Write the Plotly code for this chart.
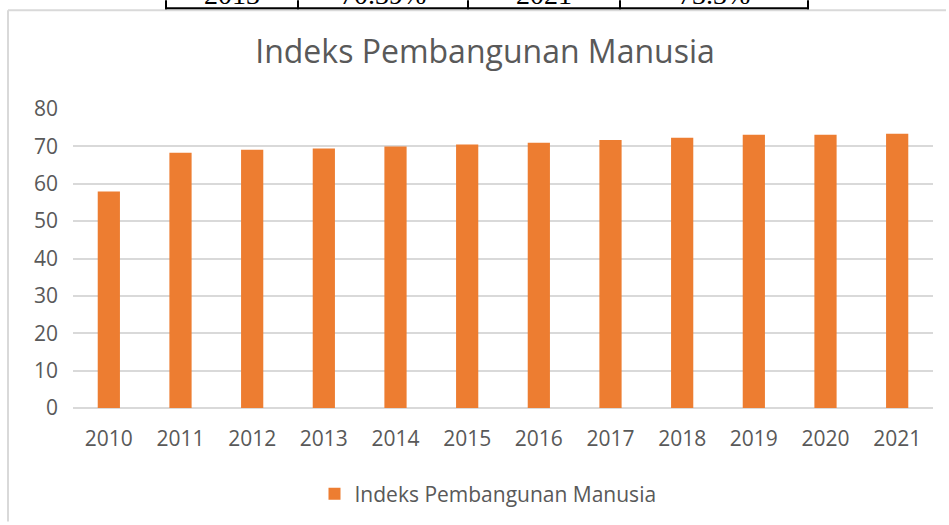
import plotly.graph_objects as go

years = ["2010", "2011", "2012", "2013", "2014", "2015", "2016", "2017", "2018", "2019", "2020", "2021"]
ipm = [57.9, 68.3, 69.1, 69.4, 70.0, 70.5, 71.0, 71.7, 72.3, 73.1, 73.1, 73.4]
series_name = "Indeks Pembangunan Manusia"
table_texts = ["2013", "70.39%", "2021", "73.3%"]

W, H = 949, 525
L, R, T, B = 73, 933, 109, 409  # plot area pixels

def px(x):
    return (x - L) / (R - L)

def py(y):
    return (B - y) / (B - T)

FONT = "Open Sans"
GREY = "#595959"

fig = go.Figure()
fig.add_trace(go.Bar(
    x=years, y=ipm, name=series_name,
    marker=dict(color="#ED7D31", line=dict(width=0)),
    showlegend=True,
))

shapes = []
# chart area frame: top and left edges, kept inside the picture
shapes.append(dict(type="line", xref="paper", yref="paper",
                   x0=px(8), x1=px(946), y0=py(10), y1=py(10),
                   line=dict(color="#D9D9D9", width=2)))
shapes.append(dict(type="line", xref="paper", yref="paper",
                   x0=px(8), x1=px(8), y0=py(10), y1=py(523),
                   line=dict(color="#D9D9D9", width=2)))
# table fragment at top
for xv in [166, 298, 468, 620, 808]:
    shapes.append(dict(type="line", xref="paper", yref="paper",
                       x0=px(xv), x1=px(xv), y0=py(9), y1=py(0),
                       line=dict(color="black", width=2)))
shapes.append(dict(type="line", xref="paper", yref="paper",
                   x0=px(165), x1=px(809), y0=py(8), y1=py(8),
                   line=dict(color="black", width=2)))

annotations = []
for cx, t in zip([232, 383, 544, 714], table_texts):
    annotations.append(dict(x=px(cx), y=py(12), xref="paper", yref="paper",
                            text=t, showarrow=False, xanchor="center", yanchor="bottom",
                            font=dict(family="Liberation Serif", size=28, color="black")))

fig.update_layout(
    width=W, height=H,
    margin=dict(l=L, r=W - R, t=T, b=H - B, pad=0),
    paper_bgcolor="white", plot_bgcolor="rgba(0,0,0,0)",
    bargap=0.69,
    title=dict(text="Indeks Pembangunan Manusia", x=485 / W, xanchor="center",
               y=1 - 52 / H, yanchor="middle",
               font=dict(family=FONT, size=32, color=GREY)),
    font=dict(family=FONT, size=21, color=GREY),
    xaxis=dict(showgrid=False, showline=False, zeroline=False, ticks="",
               tickfont=dict(size=21, color=GREY), ticklabelstandoff=16),
    yaxis=dict(range=[0, 80], dtick=10, showgrid=True, gridcolor="#D9D9D9", gridwidth=1.5,
               zeroline=True, zerolinecolor="#D9D9D9", zerolinewidth=1.5,
               showline=False, ticks="", tickfont=dict(size=21, color=GREY),
               ticklabelstandoff=14),
    legend=dict(orientation="h", x=px(488), xanchor="center", y=py(494), yanchor="middle",
                font=dict(size=21, color=GREY), itemwidth=30),
    shapes=shapes,
    annotations=annotations,
)

fig.write_html("out.html", config={"displayModeBar": False},
               post_script="document.body.style.margin='0';")
